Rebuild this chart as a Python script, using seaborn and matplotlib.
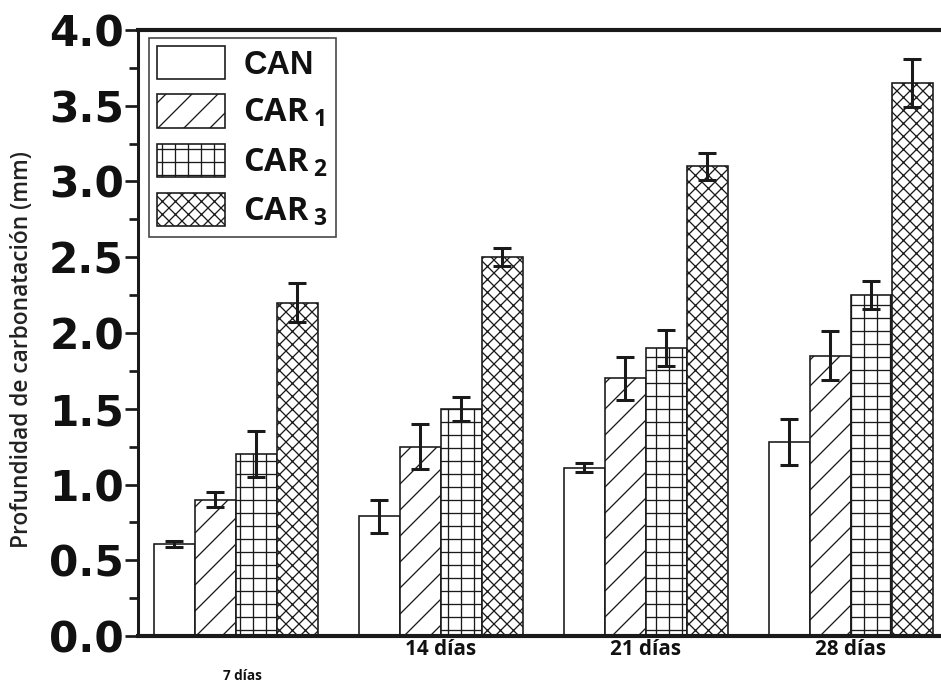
import matplotlib
matplotlib.use("Agg")
import matplotlib.pyplot as plt
from matplotlib.patches import Patch
from matplotlib.ticker import MultipleLocator
import seaborn as sns
import pandas as pd

# Carbonation depth (mm) per mix and exposure age
dias = ["7 días", "14 días", "21 días", "28 días"]
series = ["CAN", "CAR1", "CAR2", "CAR3"]
can = [0.61, 0.79, 1.11, 1.28]
car1 = [0.90, 1.25, 1.70, 1.85]
car2 = [1.20, 1.50, 1.90, 2.25]
car3 = [2.20, 2.50, 3.10, 3.65]
err_can = [0.02, 0.11, 0.03, 0.15]
err_car1 = [0.05, 0.15, 0.14, 0.16]
err_car2 = [0.15, 0.08, 0.12, 0.09]
err_car3 = [0.13, 0.06, 0.09, 0.16]
legend_labels = ["CAN", r"CAR$\,_{1}$", r"CAR$\,_{2}$", r"CAR$\,_{3}$"]
hatches = ["", "/", "+", "xx"]

values = [can, car1, car2, car3]
errors = [err_can, err_car1, err_car2, err_car3]
df = pd.DataFrame({
    "dias": [d for _ in series for d in dias],
    "serie": [s for s in series for _ in dias],
    "prof": [v for vals in values for v in vals],
})

sns.set_theme(style="white")
plt.rcParams["hatch.linewidth"] = 1.2
plt.rcParams["mathtext.fontset"] = "custom"
plt.rcParams["mathtext.rm"] = "Open Sans:bold"
plt.rcParams["mathtext.it"] = "Open Sans:bold"
plt.rcParams["mathtext.bf"] = "Open Sans:bold"

DPI = 78
fig = plt.figure(figsize=(941 / DPI, 685 / DPI), dpi=DPI)
ax = fig.add_axes([138 / 941, 1 - 636 / 685, 1 - 138 / 941, (636 - 30) / 685])

sns.barplot(data=df, x="dias", y="prof", hue="serie", order=dias, hue_order=series,
            palette=["white"] * 4, edgecolor="#1a1a1a", linewidth=1.5,
            errorbar=None, width=0.8, legend=False, ax=ax)

for cont, hatch, err, vals in zip(ax.containers, hatches, errors, values):
    xs = []
    for bar in cont:
        bar.set_hatch(hatch)
        bar.set_edgecolor("#1a1a1a")
        xs.append(bar.get_x() + bar.get_width() / 2)
    ax.errorbar(xs, vals, yerr=err, fmt="none", ecolor="#1a1a1a",
                elinewidth=2.8, capsize=8.5, capthick=2.8, zorder=5)

ax.set_xlim(-0.478, 3.44)
ax.set_ylim(0, 4.0)
ax.yaxis.set_major_locator(MultipleLocator(0.5))
ax.yaxis.set_minor_locator(MultipleLocator(0.25))
ax.tick_params(axis="y", which="major", direction="out", length=12, width=2.5,
               color="#1a1a1a", left=True, pad=1)
ax.tick_params(axis="y", which="minor", direction="out", length=8, width=2.5,
               color="#1a1a1a", left=True)
ax.tick_params(axis="x", length=0)
for lab in ax.get_yticklabels():
    lab.set_fontfamily("DejaVu Sans")
    lab.set_fontweight("bold")
    lab.set_fontsize(39)
    lab.set_color("#111111")

# category labels below the axis
ax.set_xticks(range(len(dias)))
ax.set_xticklabels([])
ax.set_xlabel("")
for i, d in enumerate(dias):
    small = i == 0
    ax.text(i + (0.03 if small else 0), -0.066 if small else -0.022, d,
            transform=ax.get_xaxis_transform(), ha="center", va="center",
            fontsize=12.5 if small else 19, fontweight="bold",
            family="Open Sans", color="#111111")

ax.set_ylabel("Profundidad de carbonatación (mm)", fontsize=21,
              family="Open Sans", fontweight="semibold", color="#222222")
ax.yaxis.set_label_coords(-0.129, 0.472)

for side in ["left", "bottom", "top"]:
    ax.spines[side].set_visible(True)
    ax.spines[side].set_color("#1a1a1a")
ax.spines["left"].set_linewidth(2.8)
ax.spines["bottom"].set_linewidth(3.8)
ax.spines["top"].set_linewidth(3.8)
ax.spines["right"].set_visible(False)

handles = [Patch(facecolor="white", edgecolor="#1a1a1a", hatch=h, linewidth=1.5)
           for h in hatches]
leg = ax.legend(handles, legend_labels, loc="upper left",
                bbox_to_anchor=((149 - 138) / 803, (636 - 38) / 606),
                borderaxespad=0, frameon=True, fancybox=False, framealpha=1,
                edgecolor="#444444", handlelength=2.1, handleheight=1.2,
                handletextpad=0.55, labelspacing=0.42, borderpad=0.25,
                prop={"family": "Open Sans", "weight": "bold", "size": 30})
leg.get_frame().set_linewidth(1.5)
texts = leg.get_texts()
texts[0].set_fontfamily("Liberation Sans")
for t in texts:
    t.set_color("#111111")

fig.savefig("out.png", dpi=DPI)
